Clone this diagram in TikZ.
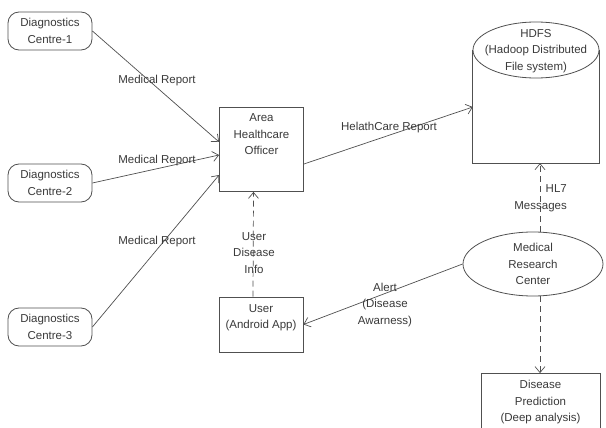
\documentclass[tikz,border=0pt]{standalone}
\usepackage{fontspec}
\setmainfont{Liberation Sans}
\usetikzlibrary{shapes.geometric,arrows.meta}
\definecolor{ink}{HTML}{3A3A3A}
\definecolor{edge}{HTML}{505050}
\begin{document}
\begin{tikzpicture}[x=1pt,y=-1pt,
  font=\fontsize{11.5}{16.5}\selectfont,
  every node/.style={text=ink, align=center},
  centrebox/.style={draw=edge, line width=0.8pt, rounded corners=11pt, minimum width=84pt, minimum height=38pt, inner sep=1pt},
  plainbox/.style={draw=edge, line width=0.8pt, inner sep=0pt},
  conn/.style={draw=edge, line width=0.7pt, -{Straight Barb[length=6pt,width=10pt]}},
  dconn/.style={conn, dash pattern=on 6pt off 4pt},
  lbl/.style={inner sep=0pt}
]
\useasboundingbox (0,0) rectangle (606,428);
\fill[white] (0,0) rectangle (606,428);

% diagnostics centres
\node[centrebox] (dc1) at (50,31) {Diagnostics\\Centre-1};
\node[centrebox] (dc2) at (50,183) {Diagnostics\\Centre-2};
\node[centrebox] (dc3) at (50,327) {Diagnostics\\Centre-3};

% area healthcare officer
\node[plainbox, minimum width=84pt, minimum height=84pt,
  label={[anchor=north, inner sep=0pt, yshift=-6.5pt]north:Area\\Healthcare\\Officer}] (aho) at (261.5,149.5) {};

% user
\node[plainbox, minimum width=84pt, minimum height=55pt,
  label={[anchor=north, inner sep=0pt, yshift=-7.5pt]north:User\\(Android App)}] (user) at (261,324.5) {};

% HDFS cylinder
\node[minimum width=126pt, minimum height=141pt, inner sep=0pt] (hdfs) at (536,92.5) {};
\draw[edge, line width=0.8pt] (hdfs.north west |- 0,50) -- (hdfs.south west) -- (hdfs.south east) -- (hdfs.north east |- 0,50);
\draw[edge, line width=0.8pt, fill=white] (536,50) ellipse [x radius=63pt, y radius=28pt];
\node[lbl] (hdfstext) at (536,51) {HDFS\\(Hadoop Distributed\\File system)};

% medical research center
\node[ellipse, draw=edge, line width=0.8pt, minimum width=140pt, minimum height=64pt, inner sep=0pt] (mrc) at (533,264) {Medical\\Research\\Center};

% disease prediction
\node[plainbox, minimum width=119pt, minimum height=58pt] (dp) at (540.5,402.5) {Disease\\Prediction\\(Deep analysis)};

% connectors
\draw[conn] (dc1.east) -- ([yshift=7.5pt]aho.west);
\draw[conn] (dc2.east) -- ([yshift=-5.5pt]aho.west);
\draw[conn] (dc3.east) -- ([yshift=-25.5pt]aho.west);
\draw[conn] ([yshift=-14.5pt]aho.east) -- ([yshift=-14.5pt]hdfs.west);
\draw[dconn] ([xshift=-8pt]user.north) -- ([xshift=-8pt]aho.south);
\coordinate (mrctop) at ([xshift=7pt]mrc.north);
\coordinate (mrcbot) at ([xshift=7pt]mrc.south);
\draw[dconn] (mrctop) -- (mrctop |- hdfs.south);
\draw[dconn] (mrcbot) -- (mrcbot |- dp.north);
\draw[conn] (mrc.west) -- (user.east);

% labels
\node[lbl] (mr1) at (157,81) {Medical Report};
\node[lbl] (mr2) at (157,161) {Medical Report};
\node[lbl] (mr3) at (157,242) {Medical Report};
\node[lbl] (hcr) at (389,128) {HelathCare Report};
\node[lbl] (udi) at (254,253) {User\\Disease\\Info};
\node[lbl] (alert) at (385,305) {Alert\\(Disease\\Awarness)};
\node[lbl, align=right, anchor=east] (hl7) at (567,198) {HL7\\Messages};
\end{tikzpicture}
\end{document}
